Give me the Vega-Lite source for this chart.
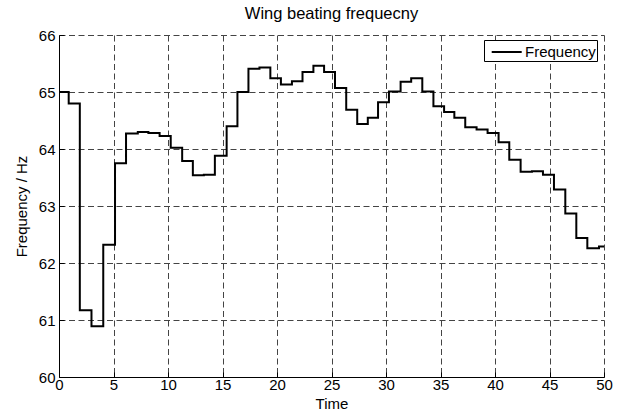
{
  "$schema": "https://vega.github.io/schema/vega-lite/v6.json",
  "width": 545,
  "height": 342,
  "autosize": {"type": "none"},
  "padding": {"left": 59, "top": 35, "right": 20, "bottom": 37},
  "background": "white",
  "title": {
    "text": "Wing beating frequecny",
    "font": "Liberation Sans",
    "fontSize": 16.5,
    "fontWeight": "normal",
    "color": "black",
    "frame": "group",
    "anchor": "middle",
    "offset": 6
  },
  "config": {
    "view": {"stroke": null},
    "axis": {
      "labelFont": "Liberation Sans",
      "titleFont": "Liberation Sans",
      "labelFontSize": 15,
      "titleFontSize": 15,
      "titleFontWeight": "normal",
      "labelColor": "black",
      "titleColor": "black",
      "domainColor": "black",
      "domainWidth": 1,
      "tickColor": "black",
      "tickSize": -5,
      "gridColor": "#444444",
      "gridDash": [6, 3.5],
      "gridWidth": 1,
      "gridOpacity": 1
    }
  },
  "data": {
    "values": [
      {"Time": 0, "Frequency": 65.0},
      {"Time": 0.89, "Frequency": 64.8},
      {"Time": 1.91, "Frequency": 61.17},
      {"Time": 2.98, "Frequency": 60.89},
      {"Time": 4.06, "Frequency": 62.32},
      {"Time": 5.14, "Frequency": 63.75},
      {"Time": 6.15, "Frequency": 64.27},
      {"Time": 7.23, "Frequency": 64.3},
      {"Time": 8.2, "Frequency": 64.28},
      {"Time": 9.23, "Frequency": 64.23},
      {"Time": 10.25, "Frequency": 64.02},
      {"Time": 11.3, "Frequency": 63.79},
      {"Time": 12.28, "Frequency": 63.54},
      {"Time": 13.29, "Frequency": 63.55},
      {"Time": 14.3, "Frequency": 63.88},
      {"Time": 15.38, "Frequency": 64.4},
      {"Time": 16.37, "Frequency": 65.0},
      {"Time": 17.38, "Frequency": 65.41},
      {"Time": 18.39, "Frequency": 65.43},
      {"Time": 19.39, "Frequency": 65.24},
      {"Time": 20.36, "Frequency": 65.13},
      {"Time": 21.37, "Frequency": 65.19},
      {"Time": 22.34, "Frequency": 65.35},
      {"Time": 23.34, "Frequency": 65.46},
      {"Time": 24.32, "Frequency": 65.35},
      {"Time": 25.32, "Frequency": 65.07},
      {"Time": 26.35, "Frequency": 64.69},
      {"Time": 27.36, "Frequency": 64.44},
      {"Time": 28.33, "Frequency": 64.55},
      {"Time": 29.27, "Frequency": 64.82},
      {"Time": 30.27, "Frequency": 65.01},
      {"Time": 31.34, "Frequency": 65.18},
      {"Time": 32.31, "Frequency": 65.24},
      {"Time": 33.33, "Frequency": 65.01},
      {"Time": 34.35, "Frequency": 64.75},
      {"Time": 35.33, "Frequency": 64.65},
      {"Time": 36.27, "Frequency": 64.55},
      {"Time": 37.27, "Frequency": 64.38},
      {"Time": 38.31, "Frequency": 64.34},
      {"Time": 39.32, "Frequency": 64.28},
      {"Time": 40.33, "Frequency": 64.12},
      {"Time": 41.31, "Frequency": 63.81},
      {"Time": 42.35, "Frequency": 63.6},
      {"Time": 43.39, "Frequency": 63.61},
      {"Time": 44.4, "Frequency": 63.55},
      {"Time": 45.41, "Frequency": 63.29},
      {"Time": 46.45, "Frequency": 62.87},
      {"Time": 47.46, "Frequency": 62.44},
      {"Time": 48.47, "Frequency": 62.26},
      {"Time": 49.54, "Frequency": 62.29},
      {"Time": 50, "Frequency": 62.29}
    ]
  },
  "mark": {"type": "line", "interpolate": "step-after", "strokeWidth": 2, "strokeJoin": "miter", "strokeCap": "butt"},
  "encoding": {
    "x": {
      "field": "Time",
      "type": "quantitative",
      "scale": {"domain": [0, 50], "nice": false, "zero": false},
      "axis": {"values": [0, 5, 10, 15, 20, 25, 30, 35, 40, 45, 50], "title": "Time", "labelPadding": 5, "titlePadding": 4, "labelFlush": false}
    },
    "y": {
      "field": "Frequency",
      "type": "quantitative",
      "scale": {"domain": [60, 66], "nice": false, "zero": false},
      "axis": {"values": [60, 61, 62, 63, 64, 65, 66], "title": "Frequency / Hz", "labelPadding": 9, "titlePadding": 9, "labelFlush": false}
    },
    "color": {
      "datum": "Frequency",
      "scale": {"range": ["black"]},
      "legend": {
        "title": null,
        "orient": "none",
        "legendX": 425,
        "legendY": 5,
        "symbolType": "M-1.5,0H1.5",
        "symbolSize": 400,
        "symbolStrokeWidth": 2,
        "symbolStrokeColor": "black",
        "symbolFillColor": "transparent",
        "symbolOffset": 10.7,
        "labelFont": "Liberation Sans",
        "labelFontSize": 15,
        "labelColor": "black",
        "labelOffset": 7.3,
        "strokeColor": "black",
        "fillColor": "white",
        "padding": 1,
        "cornerRadius": 0
      }
    }
  }
}
